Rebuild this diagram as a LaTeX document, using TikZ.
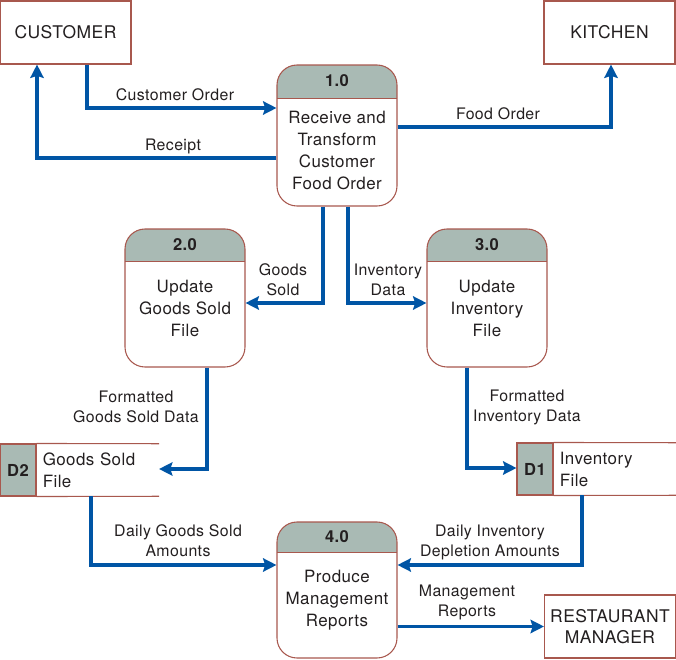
\documentclass[tikz,border=0pt]{standalone}
\usepackage{fontspec}
\setmainfont{TeX Gyre Heros}[LetterSpace=2.5]
\usepackage{tikz}
\usetikzlibrary{arrows.meta,positioning}
\usepackage{xcolor}

\definecolor{flowblue}{RGB}{0,85,165}
\definecolor{boxred}{RGB}{168,88,78}
\definecolor{hdrgray}{RGB}{169,186,180}
\definecolor{ink}{RGB}{35,31,32}
\newcommand\px{0.75pt}

\begin{document}
\begin{tikzpicture}[x=0.75pt,y=-0.75pt,
  every node/.style={text=ink},
  proc/.style={draw=boxred, line width=0.8pt, rounded corners=15pt,
    minimum width=120*\px, minimum height=#1*\px, inner sep=0pt},
  phdr/.style={path picture={
    \fill[hdrgray, sharp corners] (path picture bounding box.north west)
      rectangle ([yshift=-#1*\px]path picture bounding box.north east);
    \draw[boxred, line width=0.5pt, sharp corners]
      ([yshift=-#1*\px]path picture bounding box.north west)
      -- ([yshift=-#1*\px]path picture bounding box.north east);}},
  ent/.style={draw=boxred, line width=0.8pt, fill=white, inner sep=0pt,
    minimum width=131*\px, minimum height=63*\px, align=center,
    font=\fontsize{13.1}{15.8}\selectfont},
  num/.style={font=\fontsize{12.4}{15}\selectfont\bfseries, inner sep=0pt},
  ptxt/.style={align=center, font=\fontsize{12.7}{16.5}\selectfont, inner sep=0pt},
  sid/.style={draw=boxred, line width=0.8pt, fill=hdrgray, minimum width=36*\px,
    minimum height=52*\px, inner sep=0pt, font=\fontsize{12.4}{15}\selectfont\bfseries},
  stxt/.style={minimum width=122*\px, minimum height=52*\px, inner sep=6*\px,
    align=left, text width=110*\px, font=\fontsize{12.7}{16.5}\selectfont},
  lbl/.style={align=center, inner sep=0pt, font=\fontsize{11.9}{15}\selectfont},
  flow/.style={draw=flowblue, line width=2.3pt,
    -{Stealth[length=10pt,width=10pt,inset=1.5pt]}}
]
  \useasboundingbox (0,0) rectangle (676,660);

  % external entities
  \node[ent] (cust) at (65.5,32.5) {CUSTOMER};
  \node[ent] (kit) at (609.5,32.5) {KITCHEN};
  \node[ent] (mgr) at (610,626.5) {RESTAURANT\\MANAGER};

  % processes
  \node[proc=141, phdr=33] (p1) at (337,135.5) {};
  \node[proc=138, phdr=32] (p2) at (185,298) {};
  \node[proc=138, phdr=32] (p3) at (487,298) {};
  \node[proc=136, phdr=30] (p4) at (337,590) {};

  \node[num] (p1n) at (337,81) {1.0};
  \node[ptxt] (p1t) at (337,150.5) {Receive and\\Transform\\Customer\\Food Order};
  \node[num] (p2n) at (185,245) {2.0};
  \node[ptxt] (p2t) at (185,308) {Update\\Goods Sold\\File};
  \node[num] (p3n) at (487,245) {3.0};
  \node[ptxt] (p3t) at (487,308) {Update\\Inventory\\File};
  \node[num] (p4n) at (337,537) {4.0};
  \node[ptxt] (p4t) at (337,600) {Produce\\Management\\Reports};

  % data stores
  \node[sid] (d2) at (18,470) {D2};
  \node[stxt, anchor=west] (d2t) at (d2.east) {Goods Sold\\File};
  \draw[boxred, line width=0.8pt] (d2.north east) -- (d2t.north east)
    (d2.south east) -- (d2t.south east);
  \node[sid] (d1) at (535,469) {D1};
  \node[stxt, anchor=west] (d1t) at (d1.east) {Inventory\\File};
  \draw[boxred, line width=0.8pt] (d1.north east) -- (d1t.north east)
    (d1.south east) -- (d1t.south east);

  % bend points
  \coordinate (bCO) at (87,108);
  \coordinate (bRc) at (37,158);
  \coordinate (bFO) at (611,127);
  \coordinate (bGS) at (323,303);
  \coordinate (bID) at (348,303);
  \coordinate (bFG) at (207,469);
  \coordinate (bFI) at (467,468);
  \coordinate (bDG) at (91,565);
  \coordinate (bDI) at (582,565);

  % data flows
  \draw[flow] (cust.south -| bCO) |- (p1.west |- bCO);
  \draw[flow] (p1.west |- bRc) -| (cust.south -| bRc);
  \draw[flow] (p1.east |- bFO) -| (kit.south -| bFO);
  \draw[flow] (p1.south -| bGS) |- (p2.east |- bGS);
  \draw[flow] (p1.south -| bID) |- (p3.west |- bID);
  \draw[flow] (p2.south -| bFG) |- (d2t.east |- bFG);
  \draw[flow] (p3.south -| bFI) |- (d1.west |- bFI);
  \draw[flow] (d2t.south -| bDG) |- (p4.west |- bDG);
  \draw[flow] (d1t.south -| bDI) |- (p4.east |- bDI);
  \draw[flow] (p4.east |- mgr.west) -- (mgr.west);

  % flow labels
  \node[lbl] (lCO) at (175,95) {Customer Order};
  \node[lbl] (lRc) at (173,146) {Receipt};
  \node[lbl] (lFO) at (498,114) {Food Order};
  \node[lbl] (lGS) at (283,280) {Goods\\Sold};
  \node[lbl] (lID) at (388,280) {Inventory\\Data};
  \node[lbl] (lFG) at (136,407) {Formatted\\Goods Sold Data};
  \node[lbl] (lFI) at (527,407) {Formatted\\Inventory Data};
  \node[lbl] (lDG) at (178,541) {Daily Goods Sold\\Amounts};
  \node[lbl] (lDI) at (490,542) {Daily Inventory\\Depletion Amounts};
  \node[lbl] (lMR) at (467,602) {Management\\Reports};
\end{tikzpicture}
\end{document}
